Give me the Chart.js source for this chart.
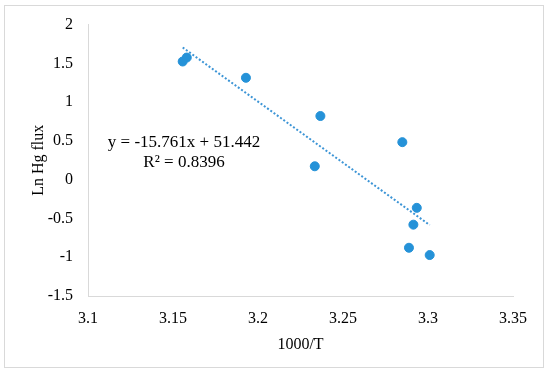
<!DOCTYPE html>
<html>
<head>
<meta charset="utf-8">
<script src="https://cdn.jsdelivr.net/npm/chart.js@4.4.0/dist/chart.umd.min.js"></script>
<style>
  body { margin: 0; background: #fff; }
  #wrap { width: 550px; height: 376px; position: relative; }
</style>
</head>
<body>
<div id="wrap"><canvas id="fluxChart" width="550" height="376"></canvas></div>
<script>
'use strict';

// Data
var invTemp = [3.1557, 3.1581, 3.1929, 3.2367, 3.2849, 3.2334, 3.2934, 3.2914, 3.2888, 3.3010];
var lnFlux = [1.524, 1.575, 1.314, 0.821, 0.484, 0.173, -0.363, -0.580, -0.878, -0.972];
var xTicks = [3.1, 3.15, 3.2, 3.25, 3.3, 3.35];
var yTicks = [-1.5, -1, -0.5, 0, 0.5, 1, 1.5, 2];
var slope = -15.761;
var intercept = 51.442;
var trendX = [3.1557, 3.3010];
var eqLabel = 'y = -15.761x + 51.442';
var r2Label = 'R\u00b2 = 0.8396';

var points = [];
for (var i = 0; i < invTemp.length; i++) {
  points.push({ x: invTemp[i], y: lnFlux[i] });
}
var trend = trendX.map(function (x) { return { x: x, y: slope * x + intercept }; });

var serif = "'Liberation Serif', 'Times New Roman', serif";
var blue = '#2592d8';

// frame + equation text
var extras = {
  id: 'extras',
  beforeDraw: function (chart) {
    var ctx = chart.ctx;
    ctx.save();
    ctx.fillStyle = '#fff';
    ctx.fillRect(0, 0, chart.width, chart.height);
    ctx.strokeStyle = '#d9d9d9';
    ctx.lineWidth = 1;
    ctx.strokeRect(4.5, 5.5, 539, 362);
    ctx.restore();
  },
  afterDraw: function (chart) {
    var ctx = chart.ctx;
    ctx.save();
    ctx.fillStyle = '#000';
    ctx.font = '17px ' + serif;
    ctx.textAlign = 'center';
    ctx.textBaseline = 'middle';
    ctx.fillText(eqLabel, 184, 143);
    ctx.fillText(r2Label, 184, 163);
    ctx.restore();
  }
};

var ctx = document.getElementById('fluxChart').getContext('2d');
var fluxChart = new Chart(ctx, {
  type: 'scatter',
  data: {
    datasets: [{
      data: points,
      backgroundColor: blue,
      borderColor: blue,
      pointRadius: 4.5,
      pointHoverRadius: 4.5,
      order: 1
    }, {
      type: 'line',
      data: trend,
      borderColor: '#3d95d6',
      borderWidth: 2,
      borderDash: [2, 2],
      pointRadius: 0,
      fill: false,
      order: 2
    }]
  },
  options: {
    responsive: false,
    animation: false,
    layout: { padding: { top: 14, right: 37, bottom: 22, left: 29 } },
    plugins: {
      legend: { display: false },
      tooltip: { enabled: false }
    },
    scales: {
      x: {
        type: 'linear',
        min: 3.1,
        max: 3.35,
        afterBuildTicks: function (axis) {
          axis.ticks = xTicks.map(function (v) { return { value: v }; });
        },
        afterFit: function (axis) { axis.height = 58; },
        grid: { display: false, drawTicks: false },
        border: { color: '#d9d9d9', width: 1 },
        ticks: {
          color: '#000',
          padding: 13,
          font: { family: serif, size: 16 },
          callback: function (v) { return String(+v.toFixed(2)); }
        },
        title: {
          display: true,
          text: '1000/T',
          color: '#000',
          font: { family: serif, size: 16 },
          padding: { top: 0, bottom: 0 }
        }
      },
      y: {
        min: -1.5,
        max: 2,
        afterBuildTicks: function (axis) {
          axis.ticks = yTicks.map(function (v) { return { value: v }; });
        },
        afterFit: function (axis) { axis.width = 59; },
        grid: { display: false, drawTicks: false },
        border: { color: '#d9d9d9', width: 1 },
        ticks: {
          color: '#000',
          padding: 15,
          font: { family: serif, size: 16 },
          callback: function (v) { return String(+v.toFixed(1)); }
        },
        title: {
          display: true,
          text: 'Ln Hg flux',
          color: '#000',
          font: { family: serif, size: 16 },
          padding: { top: 0, bottom: 0 }
        }
      }
    }
  },
  plugins: [extras]
});
</script>
</body>
</html>
